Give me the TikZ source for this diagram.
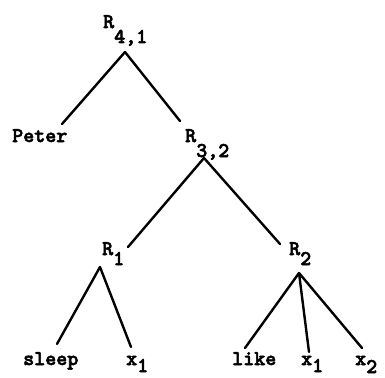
\documentclass[tikz,border=0pt]{standalone}
\usepackage{fontspec}
\setmonofont[FakeBold=2.5]{lmmonolt10-bold.otf}
\newcommand\lowsub[2]{\raisebox{-#1pt}{#2}}
\begin{document}
\begin{tikzpicture}[x=1pt,y=-1pt,
  lbl/.style={anchor=base west,inner sep=0pt,font=\ttfamily\fontsize{21}{21}\selectfont},
  edge/.style={line width=2.4pt,line cap=round}]
\useasboundingbox (0,0) rectangle (385,377);
% labels
\node[lbl] (r41) at (103,28) {R\lowsub{15}{4,1}};
\node[lbl] (peter) at (12,142) {Peter};
\node[lbl] (r32) at (185,142) {R\lowsub{15}{3,2}};
\node[lbl] (r1) at (102,255) {R\lowsub{10}{1}};
\node[lbl] (r2) at (289,255) {R\lowsub{10}{2}};
\node[lbl] (sleep) at (23,365) {sleep};
\node[lbl] (xa) at (126,365) {x\lowsub{7}{1}};
\node[lbl] (like) at (232,365) {like};
\node[lbl] (xb) at (301,365) {x\lowsub{7}{1}};
\node[lbl] (xc) at (355,365) {x\lowsub{8}{2}};
% attachment points
\coordinate (r41b) at (125,52);
\coordinate (peterT) at (62,124);
\coordinate (r32T) at (180,121);
\coordinate (r32b) at (204,158);
\coordinate (r1T) at (128,247);
\coordinate (r2T) at (280,244);
\coordinate (r1b) at (100,267);
\coordinate (r2b) at (299,273);
\coordinate (sleepT) at (57,344);
\coordinate (xaT) at (131,347);
\coordinate (likeT) at (245,348);
\coordinate (xbT) at (309,352);
\coordinate (xcT) at (362,348);
% edges
\draw[edge] (r41b) -- (peterT);
\draw[edge] (r41b) -- (r32T);
\draw[edge] (r32b) -- (r1T);
\draw[edge] (r32b) -- (r2T);
\draw[edge] (r1b) -- (sleepT);
\draw[edge] (r1b) -- (xaT);
\draw[edge] (r2b) -- (likeT);
\draw[edge] (r2b) -- (xbT);
\draw[edge] (r2b) -- (xcT);
\end{tikzpicture}
\end{document}
